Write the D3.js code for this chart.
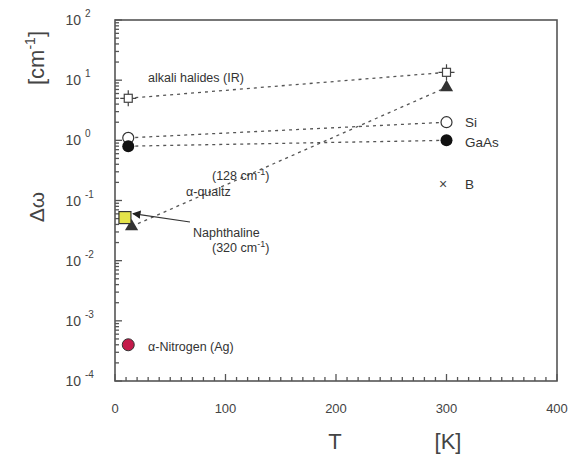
<!DOCTYPE html>
<html><head><meta charset="utf-8">
<script src="https://cdn.jsdelivr.net/npm/d3@7"></script>
<style>body{margin:0;background:#fff}text{font-family:"Liberation Sans",Arial,sans-serif}</style>
</head><body><svg id="c" width="574" height="459"></svg>
<script>
const xTicks = [0,100,200,300,400];
const yExps = [-4,-3,-2,-1,0,1,2];
const alkaliT = [12,300], alkaliW = [5.0,13.5];
const siT = [12,300], siW = [1.1,2.0];
const gaasT = [12,300], gaasW = [0.8,1.0];
const quartzT = [15,300], quartzW = [0.037,7.6];
const naphT = [9], naphW = [0.052];
const bT = [297], bW = [0.19];
const nitroT = [12], nitroW = [0.0004];

const svg = d3.select("#c");
const x = d3.scaleLinear().domain([0,400]).range([115,557]);
const y = d3.scaleLog().domain([1e-4,1e2]).range([381,20]);
const ax = "#555", tc = "#444";

// x ticks (inward) drawn from scale
const xMinor = d3.range(0,401,10);
svg.append("g").selectAll("line").data(xMinor).join("line")
  .attr("x1",d=>x(d)).attr("x2",d=>x(d)).attr("y1",381).attr("y2",d=>d%100===0?374:377)
  .attr("stroke",ax).attr("stroke-width",1.3);
svg.append("g").selectAll("text").data(xTicks).join("text")
  .attr("x",d=>x(d)).attr("y",413).attr("text-anchor","middle")
  .attr("font-size",13).attr("fill",tc).text(d=>d);

// y ticks (inward)
const yMinor = [];
for (let e=-4;e<2;e++) for (let m=1;m<10;m++) yMinor.push({v:m*Math.pow(10,e),major:m===1});
yMinor.push({v:100,major:true});
svg.append("g").selectAll("line").data(yMinor).join("line")
  .attr("x1",115).attr("x2",d=>d.major?122:119).attr("y1",d=>y(d.v)).attr("y2",d=>y(d.v))
  .attr("stroke",ax).attr("stroke-width",1.3);
const yl = svg.append("g").selectAll("g").data(yExps).join("g");
yl.append("text").attr("x",81).attr("y",d=>y(Math.pow(10,d))+5).attr("text-anchor","end")
  .attr("font-size",14).attr("fill",tc).text("10");
yl.append("text").attr("x",85).attr("y",d=>y(Math.pow(10,d))-3).attr("text-anchor","start")
  .attr("font-size",10).attr("fill",tc).text(d=>d);

// frame
svg.append("rect").attr("x",115).attr("y",20).attr("width",442).attr("height",361)
  .attr("fill","none").attr("stroke",ax).attr("stroke-width",1.6);

// axis titles
svg.append("text").attr("transform","translate(44,207) rotate(-90)").attr("text-anchor","middle")
  .attr("font-size",21).attr("fill",tc).text("Δω");
const cm = svg.append("text").attr("transform","translate(44,58) rotate(-90)").attr("text-anchor","middle")
  .attr("font-size",22).attr("fill",tc);
cm.append("tspan").text("[cm");
cm.append("tspan").attr("dy",-9).attr("font-size",14).text("-1");
cm.append("tspan").attr("dy",9).text("]");
svg.append("text").attr("x",335).attr("y",449).attr("text-anchor","middle").attr("font-size",22).attr("fill",tc).text("T");
svg.append("text").attr("x",448).attr("y",449).attr("text-anchor","middle").attr("font-size",22).attr("fill",tc).text("[K]");

// dashed lines
const dash = (T,W)=>svg.append("path").datum(T.map((t,i)=>[t,W[i]]))
  .attr("d",d3.line().x(d=>x(d[0])).y(d=>y(d[1])))
  .attr("fill","none").attr("stroke","#555").attr("stroke-width",1.3).attr("stroke-dasharray","3,4");
dash(alkaliT,alkaliW); dash(siT,siW); dash(gaasT,gaasW); dash(quartzT,quartzW);

// markers
alkaliT.forEach((t,i)=>{
  const cx=x(t), cy=y(alkaliW[i]);
  svg.append("path").attr("d",`M${cx},${cy-8}V${cy+8}M${cx-8},${cy}H${cx+8}`).attr("stroke","#444").attr("stroke-width",1.2);
  svg.append("rect").attr("x",cx-4).attr("y",cy-4).attr("width",8).attr("height",8).attr("fill","#fff").attr("stroke","#444").attr("stroke-width",1.2);
});
const tri = d3.symbol().type(d3.symbolTriangle).size(75);
quartzT.forEach((t,i)=>svg.append("path").attr("d",tri).attr("transform",`translate(${x(t)},${y(quartzW[i])})`).attr("fill","#333"));
siT.forEach((t,i)=>svg.append("circle").attr("cx",x(t)).attr("cy",y(siW[i])).attr("r",5.5).attr("fill","#fff").attr("stroke","#333").attr("stroke-width",1.2));
gaasT.forEach((t,i)=>svg.append("circle").attr("cx",x(t)).attr("cy",y(gaasW[i])).attr("r",6).attr("fill","#111"));
naphT.forEach((t,i)=>svg.append("rect").attr("x",x(t)-6).attr("y",y(naphW[i])-6).attr("width",12).attr("height",12).attr("fill","#e4e34a").attr("stroke","#333").attr("stroke-width",1.2));
bT.forEach((t,i)=>svg.append("text").attr("x",x(t)).attr("y",y(bW[i])+5).attr("text-anchor","middle").attr("font-size",14).attr("fill","#444").text("×"));
nitroT.forEach((t,i)=>svg.append("circle").attr("cx",x(t)).attr("cy",y(nitroW[i])).attr("r",6).attr("fill","#c41a4a").attr("stroke","#333").attr("stroke-width",1));

// arrow
svg.append("defs").append("marker").attr("id","ah").attr("viewBox","0 0 10 10").attr("refX",9).attr("refY",5)
  .attr("markerWidth",7).attr("markerHeight",7).attr("orient","auto")
  .append("path").attr("d","M0,0L10,5L0,10z").attr("fill","#222");
svg.append("line").attr("x1",190).attr("y1",222).attr("x2",x(naphT[0])+8).attr("y2",y(naphW[0])-4)
  .attr("stroke","#333").attr("stroke-width",1.2).attr("marker-end","url(#ah)");

// labels
const lab = (tx,ty,s,fs=12.5)=>svg.append("text").attr("x",tx).attr("y",ty).attr("font-size",fs).attr("fill","#333").text(s);
lab(148,82,"alkali halides (IR)");
lab(465,127,"Si",13.5); lab(465,147,"GaAs",13.5); lab(465,189,"B",13.5);
const l128 = svg.append("text").attr("x",212).attr("y",180).attr("font-size",12.5).attr("fill","#333");
l128.append("tspan").text("(128 cm"); l128.append("tspan").attr("dy",-5).attr("font-size",9).text("-1"); l128.append("tspan").attr("dy",5).text(")");
lab(186,196,"α-qualtz");
lab(193,237,"Naphthaline");
const l320 = svg.append("text").attr("x",212).attr("y",252).attr("font-size",12.5).attr("fill","#333");
l320.append("tspan").text("(320 cm"); l320.append("tspan").attr("dy",-5).attr("font-size",9).text("-1"); l320.append("tspan").attr("dy",5).text(")");
lab(148,351,"α-Nitrogen (Ag)");
</script></body></html>
